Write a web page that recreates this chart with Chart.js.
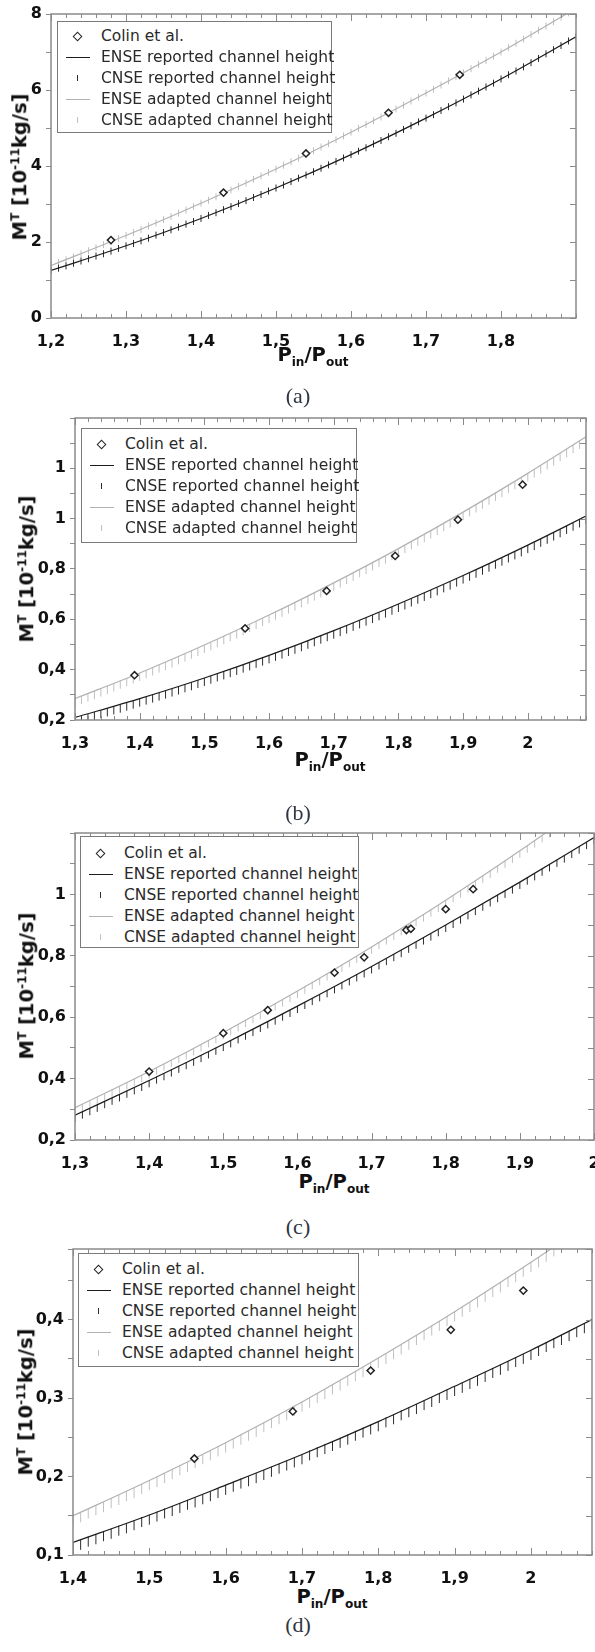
<!DOCTYPE html>
<html>
<head>
<meta charset="utf-8">
<script src="https://cdn.jsdelivr.net/npm/chart.js@4.4.1/dist/chart.umd.min.js"></script>
<style>
    body { margin: 0; width: 595px; height: 1652px; position: relative; background: #fff; overflow: hidden; font-family: 'DejaVu Sans', sans-serif; }
    canvas { position: absolute; left: 0; }
    .legend { position: absolute; box-sizing: border-box; border: 1px solid #7a7a7a; background: #fff; font-size: 15.5px; color: #2a2a2a; }
    .legend .row { position: relative; height: 21px; line-height: 21px; padding-left: 43px; white-space: nowrap; }
    .legend .mk { position: absolute; display: block; }
    .ytitle, .xtitle { position: absolute; font-weight: bold; font-size: 19.5px; line-height: 1; white-space: nowrap; color: #111; }
    .ytitle { transform: translate(-50%, -50%) rotate(-90deg); }
    .xtitle { transform: translate(-50%, -50%); }
    sup, sub { font-size: 0.62em; line-height: 0; }
    .cap { position: absolute; font-family: 'Liberation Serif', serif; font-size: 22px; color: #2f3542; transform: translate(-50%, -50%); }
</style>
</head>
<body>
<script>
// ---- panel (a) ----
const colinXA = [1.28, 1.43, 1.54, 1.65, 1.745];
const colinYA = [2.05, 3.30, 4.33, 5.40, 6.40];
const enseXA = [1.2, 1.3, 1.4, 1.5, 1.6, 1.7, 1.8, 1.9];
const enseRepA = [1.25, 1.90, 2.62, 3.42, 4.30, 5.26, 6.29, 7.40];
const enseAdpA = [1.38, 2.17, 3.02, 3.92, 4.89, 5.92, 7.00, 8.15];
// CNSE values every 0.01 starting at cnseStartA
const cnseStartA = 1.20;
const cnseRepA = [1.25,1.31,1.37,1.44,1.50,1.56,1.63,1.69,1.76,1.83,
    1.90,1.96,2.03,2.10,2.18,2.25,2.32,2.39,2.47,2.54,
    2.62,2.70,2.77,2.85,2.93,3.01,3.09,3.17,3.25,3.34,
    3.42,3.50,3.59,3.68,3.76,3.85,3.94,4.03,4.12,4.21,
    4.30,4.39,4.48,4.58,4.67,4.77,4.86,4.96,5.06,5.16,
    5.26,5.35,5.46,5.56,5.66,5.76,5.87,5.97,6.08,6.18,
    6.29,6.40,6.50,6.61,6.72,6.83,6.95,7.06,7.17,7.29,7.40];
const cnseAdpA = [1.38,1.46,1.53,1.61,1.69,1.77,1.85,1.93,2.01,2.09,
    2.17,2.25,2.33,2.42,2.50,2.59,2.67,2.76,2.84,2.93,
    3.02,3.10,3.19,3.28,3.37,3.46,3.55,3.65,3.74,3.83,
    3.92,4.02,4.11,4.21,4.30,4.40,4.50,4.59,4.69,4.79,
    4.89,4.99,5.09,5.19,5.29,5.40,5.50,5.60,5.71,5.81,
    5.92,6.02,6.13,6.24,6.35,6.45,6.56,6.67,6.78,6.89,
    7.00,7.12,7.23,7.34,7.46,7.57,7.68,7.80,7.92,8.03,8.15];
const xTicksA = [1.2, 1.3, 1.4, 1.5, 1.6, 1.7, 1.8];
const xLabelsA = ['1,2', '1,3', '1,4', '1,5', '1,6', '1,7', '1,8'];
const yTicksA = [0, 2, 4, 6, 8];
const yLabelsA = ['0', '2', '4', '6', '8'];

// ---- panel (b) ----
const colinXB = [1.392, 1.563, 1.689, 1.795, 1.892, 1.992];
const colinYB = [0.378, 0.564, 0.713, 0.852, 0.996, 1.135];
const enseXB = [1.3, 1.4, 1.5, 1.6, 1.7, 1.8, 1.9, 2.0, 2.09];
const enseRepB = [0.210, 0.285, 0.367, 0.457, 0.555, 0.661, 0.774, 0.895, 1.010];
const enseAdpB = [0.285, 0.387, 0.498, 0.617, 0.745, 0.881, 1.026, 1.180, 1.325];
const cnseStartB = 1.30;
const cnseRepB = [0.194,0.201,0.208,0.216,0.223,0.230,0.238,0.245,0.253,0.261,
    0.269,0.277,0.285,0.293,0.301,0.309,0.317,0.326,0.334,0.343,
    0.351,0.360,0.369,0.377,0.386,0.395,0.404,0.413,0.423,0.432,
    0.441,0.451,0.460,0.470,0.479,0.489,0.499,0.509,0.519,0.529,
    0.539,0.549,0.559,0.570,0.580,0.591,0.601,0.612,0.623,0.634,
    0.645,0.655,0.667,0.678,0.689,0.700,0.711,0.723,0.734,0.746,
    0.758,0.769,0.781,0.793,0.805,0.817,0.829,0.842,0.854,0.866,
    0.879,0.891,0.904,0.916,0.929,0.942,0.955,0.968,0.981,0.994];
const cnseAdpB = [0.269,0.279,0.289,0.299,0.309,0.319,0.329,0.340,0.350,0.361,
    0.371,0.382,0.393,0.404,0.414,0.425,0.437,0.448,0.459,0.470,
    0.482,0.493,0.505,0.517,0.529,0.540,0.552,0.565,0.577,0.589,
    0.601,0.614,0.626,0.639,0.651,0.664,0.677,0.690,0.703,0.716,
    0.729,0.742,0.756,0.769,0.783,0.796,0.810,0.824,0.837,0.851,
    0.865,0.879,0.894,0.908,0.922,0.937,0.951,0.966,0.981,0.995,
    1.010,1.025,1.040,1.055,1.071,1.086,1.101,1.117,1.132,1.148,
    1.164,1.179,1.195,1.211,1.227,1.244,1.260,1.276,1.293,1.309];
const xTicksB = [1.3, 1.4, 1.5, 1.6, 1.7, 1.8, 1.9, 2.0];
const xLabelsB = ['1,3', '1,4', '1,5', '1,6', '1,7', '1,8', '1,9', '2'];
const yTicksB = [0.2, 0.4, 0.6, 0.8, 1.0, 1.2];
const yLabelsB = ['0,2', '0,4', '0,6', '0,8', '1', '1'];

// ---- panel (c) ----
const colinXC = [1.40, 1.50, 1.56, 1.65, 1.69, 1.747, 1.753, 1.80, 1.837];
const colinYC = [0.423, 0.548, 0.623, 0.745, 0.795, 0.884, 0.888, 0.952, 1.017];
const enseXC = [1.3, 1.4, 1.5, 1.6, 1.7, 1.8, 1.9, 2.0];
const enseRepC = [0.281, 0.394, 0.512, 0.636, 0.765, 0.900, 1.040, 1.185];
const enseAdpC = [0.305, 0.423, 0.550, 0.685, 0.829, 0.981, 1.142, 1.311];
const cnseStartC = 1.30;
const cnseRepC = [0.270,0.281,0.292,0.303,0.315,0.326,0.337,0.349,0.360,0.371,
    0.383,0.395,0.406,0.418,0.430,0.442,0.453,0.465,0.477,0.489,
    0.501,0.513,0.526,0.538,0.550,0.563,0.575,0.587,0.600,0.612,
    0.625,0.638,0.651,0.663,0.676,0.689,0.702,0.715,0.728,0.741,
    0.754,0.767,0.781,0.794,0.807,0.821,0.834,0.848,0.861,0.875,
    0.889,0.902,0.916,0.930,0.944,0.958,0.972,0.986,1.000,1.014,
    1.029,1.043,1.057,1.072,1.086,1.101,1.115,1.130,1.144,1.159,1.174];
const cnseAdpC = [0.294,0.305,0.317,0.329,0.340,0.352,0.364,0.376,0.388,0.400,
    0.412,0.424,0.437,0.449,0.462,0.474,0.487,0.500,0.513,0.526,
    0.539,0.552,0.565,0.579,0.592,0.605,0.619,0.633,0.646,0.660,
    0.674,0.688,0.702,0.716,0.731,0.745,0.759,0.774,0.788,0.803,
    0.818,0.833,0.848,0.863,0.878,0.893,0.908,0.923,0.939,0.954,
    0.970,0.986,1.001,1.017,1.033,1.049,1.065,1.082,1.098,1.114,
    1.131,1.147,1.164,1.181,1.197,1.214,1.231];
const xTicksC = [1.3, 1.4, 1.5, 1.6, 1.7, 1.8, 1.9, 2.0];
const xLabelsC = ['1,3', '1,4', '1,5', '1,6', '1,7', '1,8', '1,9', '2'];
const yTicksC = [0.2, 0.4, 0.6, 0.8, 1.0];
const yLabelsC = ['0,2', '0,4', '0,6', '0,8', '1'];

// ---- panel (d) ----
const colinXD = [1.559, 1.688, 1.79, 1.895, 1.99];
const colinYD = [0.223, 0.283, 0.335, 0.387, 0.437];
const enseXD = [1.4, 1.5, 1.6, 1.7, 1.8, 1.9, 2.0, 2.08];
const enseRepD = [0.116, 0.151, 0.189, 0.228, 0.270, 0.315, 0.361, 0.400];
const enseAdpD = [0.150, 0.195, 0.243, 0.295, 0.351, 0.410, 0.473, 0.526];
const cnseStartD = 1.40;
const cnseRepD = [0.110,0.113,0.117,0.120,0.124,0.127,0.131,0.134,0.138,0.142,
    0.145,0.149,0.153,0.156,0.160,0.164,0.167,0.171,0.175,0.179,
    0.183,0.187,0.191,0.194,0.198,0.202,0.206,0.210,0.214,0.218,
    0.222,0.227,0.231,0.235,0.239,0.243,0.247,0.252,0.256,0.260,
    0.264,0.269,0.273,0.278,0.282,0.286,0.291,0.295,0.300,0.304,
    0.309,0.313,0.318,0.322,0.327,0.332,0.336,0.341,0.346,0.350,
    0.355,0.360,0.365,0.370,0.374,0.379,0.384,0.389,0.394];
const cnseAdpD = [0.144,0.148,0.153,0.157,0.161,0.166,0.170,0.175,0.179,0.184,
    0.189,0.193,0.198,0.203,0.208,0.212,0.217,0.222,0.227,0.232,
    0.237,0.242,0.247,0.252,0.257,0.263,0.268,0.273,0.278,0.284,
    0.289,0.294,0.300,0.305,0.311,0.316,0.322,0.328,0.333,0.339,
    0.345,0.350,0.356,0.362,0.368,0.374,0.380,0.386,0.392,0.398,
    0.404,0.410,0.416,0.422,0.429,0.435,0.441,0.448,0.454,0.461,
    0.467,0.473,0.480,0.487,0.493,0.500,0.507];
const xTicksD = [1.4, 1.5, 1.6, 1.7, 1.8, 1.9, 2.0];
const xLabelsD = ['1,4', '1,5', '1,6', '1,7', '1,8', '1,9', '2'];
const yTicksD = [0.1, 0.2, 0.3, 0.4];
const yLabelsD = ['0,1', '0,2', '0,3', '0,4'];

const seriesNames = ['Colin et al.', 'ENSE reported channel height', 'CNSE reported channel height',
    'ENSE adapted channel height', 'CNSE adapted channel height'];

// layout of every panel (page pixels)
const panels = [
    { caption: '(a)', xMin: 1.2, xMax: 1.9, yMin: 0, yMax: 8, yStep: 1, tick: 3.5,
      colinX: colinXA, colinY: colinYA, enseX: enseXA, enseRep: enseRepA, enseAdp: enseAdpA,
      cnseStart: cnseStartA, cnseRep: cnseRepA, cnseAdp: cnseAdpA,
      xTicks: xTicksA, xLabels: xLabelsA, yTicks: yTicksA, yLabels: yLabelsA,
      box: { l: 51, t: 14, r: 576, b: 318 }, legend: { l: 57, t: 21, w: 275, h: 112, pad: 3.5 },
      yt: { x: 20, y: 167 }, xt: { x: 313, y: 355 }, cap: { x: 298, y: 396 } },
    { caption: '(b)', xMin: 1.3, xMax: 2.09, yMin: 0.2, yMax: 1.4, yStep: 0.1, tick: 4,
      colinX: colinXB, colinY: colinYB, enseX: enseXB, enseRep: enseRepB, enseAdp: enseAdpB,
      cnseStart: cnseStartB, cnseRep: cnseRepB, cnseAdp: cnseAdpB,
      xTicks: xTicksB, xLabels: xLabelsB, yTicks: yTicksB, yLabels: yLabelsB,
      box: { l: 75, t: 418, r: 586, b: 720 }, legend: { l: 81, t: 428, w: 276, h: 115, pad: 4.5 },
      yt: { x: 27, y: 569 }, xt: { x: 330, y: 760 }, cap: { x: 298, y: 813 } },
    { caption: '(c)', xMin: 1.3, xMax: 2.0, yMin: 0.2, yMax: 1.2, yStep: 0.1, tick: 3.5,
      colinX: colinXC, colinY: colinYC, enseX: enseXC, enseRep: enseRepC, enseAdp: enseAdpC,
      cnseStart: cnseStartC, cnseRep: cnseRepC, cnseAdp: cnseAdpC,
      xTicks: xTicksC, xLabels: xLabelsC, yTicks: yTicksC, yLabels: yLabelsC,
      box: { l: 75, t: 833, r: 594, b: 1140 }, legend: { l: 80, t: 836, w: 279, h: 112, pad: 5.5 },
      yt: { x: 27, y: 986 }, xt: { x: 334, y: 1182 }, cap: { x: 298, y: 1227 } },
    { caption: '(d)', xMin: 1.4, xMax: 2.08, yMin: 0.1, yMax: 0.49, yStep: 0.05, tick: 5,
      colinX: colinXD, colinY: colinYD, enseX: enseXD, enseRep: enseRepD, enseAdp: enseAdpD,
      cnseStart: cnseStartD, cnseRep: cnseRepD, cnseAdp: cnseAdpD,
      xTicks: xTicksD, xLabels: xLabelsD, yTicks: yTicksD, yLabels: yLabelsD,
      box: { l: 73, t: 1249, r: 592, b: 1555 }, legend: { l: 78, t: 1253, w: 281, h: 114, pad: 4.5 },
      yt: { x: 26, y: 1402 }, xt: { x: 332, y: 1597 }, cap: { x: 298, y: 1625 } }
];

const tickFont = { family: 'DejaVu Sans', size: 16, weight: 'bold' };
const frameColor = '#8a8a8a';

// frame around the plot with inward ticks on bottom, top and right
const frameTicks = {
    id: 'frameTicks',
    afterDatasetsDraw(chart) {
        const { ctx, chartArea: a, scales: { x, y } } = chart;
        ctx.save();
        ctx.strokeStyle = frameColor;
        ctx.lineWidth = 1;
        ctx.beginPath();
        x.ticks.forEach(t => {
            const px = Math.round(x.getPixelForValue(t.value)) + 0.5;
            const len = t.label ? 7 : 4;
            ctx.moveTo(px, a.bottom); ctx.lineTo(px, a.bottom - len);
            ctx.moveTo(px, a.top); ctx.lineTo(px, a.top + len);
        });
        y.ticks.forEach(t => {
            const py = Math.round(y.getPixelForValue(t.value)) + 0.5;
            ctx.moveTo(a.right, py); ctx.lineTo(a.right - 6, py);
        });
        ctx.stroke();
        ctx.lineWidth = 1.5;
        ctx.strokeRect(a.left, a.top, a.right - a.left, a.bottom - a.top);
        ctx.restore();
    }
};

function labelFor(values, texts) {
    return function(v) {
        const i = values.findIndex(t => Math.abs(t - v) < 1e-6);
        return i >= 0 ? texts[i] : '';
    };
}

function buildPanel(p) {
    const padTop = 14, axisH = 30;
    const top = p.box.t - padTop;
    const cv = document.createElement('canvas');
    cv.width = 595;
    cv.height = p.box.b - top + axisH;
    cv.style.top = top + 'px';
    document.body.appendChild(cv);

    const pts = (xs, ys) => ys.map((v, i) => ({ x: xs[i], y: v }));
    const fine = (x0, ys) => ys.map((v, i) => ({ x: +(x0 + i * 0.01).toFixed(2), y: v }));

    const chart = new Chart(cv, {
        type: 'line',
        data: {
            datasets: [
                { label: seriesNames[0], data: pts(p.colinX, p.colinY), showLine: false,
                  pointStyle: 'rectRot', pointRadius: 3.6, pointBorderWidth: 1.5,
                  borderColor: '#222', backgroundColor: '#fff', clip: 0 },
                { label: seriesNames[1], data: pts(p.enseX, p.enseRep), borderColor: '#1c1c1c',
                  borderWidth: 1.2, pointRadius: 0, cubicInterpolationMode: 'monotone', clip: 0 },
                { label: seriesNames[2], data: fine(p.cnseStart, p.cnseRep), showLine: false,
                  pointStyle: 'line', pointRotation: 90, pointRadius: p.tick, pointBorderWidth: 1,
                  borderColor: '#2e2e2e', clip: 0 },
                { label: seriesNames[3], data: pts(p.enseX, p.enseAdp), borderColor: '#b2b2b2',
                  borderWidth: 1.2, pointRadius: 0, cubicInterpolationMode: 'monotone', clip: 0 },
                { label: seriesNames[4], data: fine(p.cnseStart, p.cnseAdp), showLine: false,
                  pointStyle: 'line', pointRotation: 90, pointRadius: p.tick, pointBorderWidth: 1,
                  borderColor: '#c0c0c0', clip: 0 }
            ]
        },
        options: {
            responsive: false,
            animation: false,
            devicePixelRatio: 1,
            events: [],
            layout: { autoPadding: false, padding: { top: padTop, right: 595 - p.box.r, left: 0, bottom: 0 } },
            plugins: { legend: { display: false }, tooltip: { enabled: false } },
            scales: {
                x: {
                    type: 'linear', min: p.xMin, max: p.xMax, bounds: 'data',
                    grid: { display: false }, border: { display: false },
                    ticks: { stepSize: 0.02, autoSkip: false, minRotation: 0, maxRotation: 0, padding: 6,
                             font: tickFont, color: '#111', callback: labelFor(p.xTicks, p.xLabels) },
                    afterFit: s => { s.height = axisH; s.paddingLeft = 0; s.paddingRight = 0; }
                },
                y: {
                    type: 'linear', min: p.yMin, max: p.yMax, bounds: 'data',
                    grid: { drawOnChartArea: false, drawTicks: true, tickLength: 5, color: frameColor },
                    border: { display: false },
                    ticks: { stepSize: p.yStep, autoSkip: false, padding: 4,
                             font: tickFont, color: '#111', callback: labelFor(p.yTicks, p.yLabels) },
                    afterFit: s => { s.width = p.box.l; s.paddingTop = 0; s.paddingBottom = 0; }
                }
            }
        },
        plugins: [frameTicks]
    });

    buildLegend(chart, p.legend);
    addText('ytitle', 'M<sup>T</sup> [10<sup>-11</sup>kg/s]', p.yt.x, p.yt.y);
    addText('xtitle', 'P<sub>in</sub>/P<sub>out</sub>', p.xt.x, p.xt.y);
    addText('cap', p.caption, p.cap.x, p.cap.y);
}

// legend box drawn inside the plot, built from the chart's datasets
function buildLegend(chart, lg) {
    const box = document.createElement('div');
    box.className = 'legend';
    Object.assign(box.style, { left: lg.l + 'px', top: lg.t + 'px', width: lg.w + 'px',
                               height: lg.h + 'px', paddingTop: lg.pad + 'px' });
    chart.data.datasets.forEach(ds => {
        const row = document.createElement('div');
        row.className = 'row';
        const mk = document.createElement('span');
        mk.className = 'mk';
        if (ds.pointStyle === 'rectRot') {
            Object.assign(mk.style, { left: '16px', top: '7px', width: '5px', height: '5px',
                border: '1.4px solid ' + ds.borderColor, transform: 'rotate(45deg)' });
        } else if (ds.pointStyle === 'line') {
            Object.assign(mk.style, { left: '19px', top: '7.5px', width: '1px', height: '6px',
                background: ds.borderColor });
        } else {
            Object.assign(mk.style, { left: '8px', top: '10px', width: '24px', height: '1.2px',
                background: ds.borderColor });
        }
        row.appendChild(mk);
        row.appendChild(document.createTextNode(ds.label));
        box.appendChild(row);
    });
    document.body.appendChild(box);
}

function addText(cls, html, x, y) {
    const el = document.createElement('div');
    el.className = cls;
    el.innerHTML = html;
    el.style.left = x + 'px';
    el.style.top = y + 'px';
    document.body.appendChild(el);
}

panels.forEach(buildPanel);
</script>
</body>
</html>
